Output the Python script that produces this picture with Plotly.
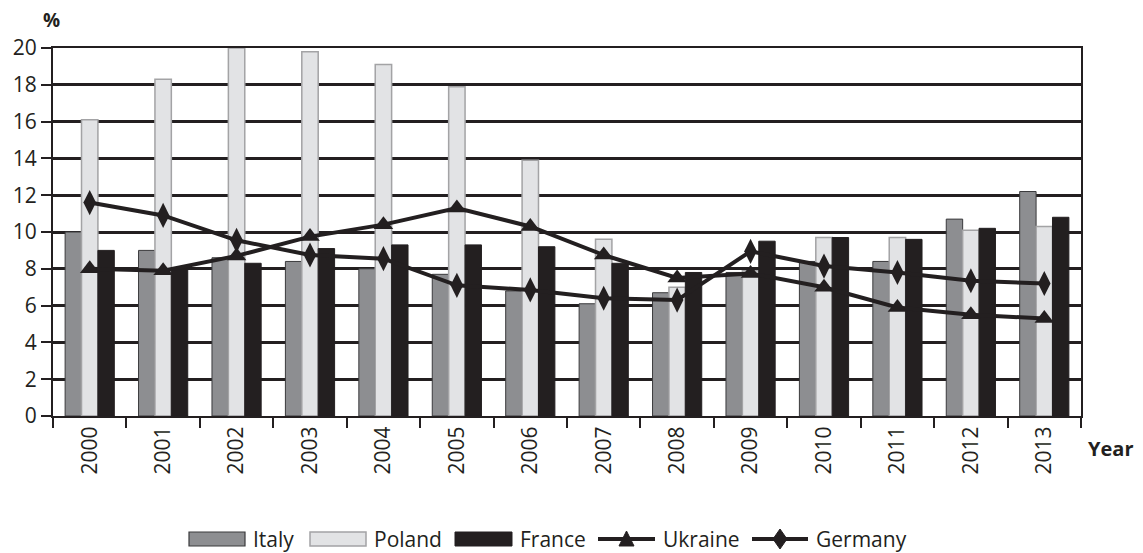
import plotly.graph_objects as go

# Unemployment rate by country, 2000-2013 (%)
years = [str(y) for y in range(2000, 2014)]
italy = [10.0, 9.0, 8.6, 8.4, 8.0, 7.7, 6.8, 6.1, 6.7, 7.8, 8.4, 8.4, 10.7, 12.2]
poland = [16.1, 18.3, 20.0, 19.8, 19.1, 17.9, 13.9, 9.6, 7.0, 7.9, 9.7, 9.7, 10.1, 10.3]
france = [9.0, 8.0, 8.3, 9.1, 9.3, 9.3, 9.2, 8.3, 7.8, 9.5, 9.7, 9.6, 10.2, 10.8]
ukraine = [8.0, 7.9, 8.7, 9.75, 10.4, 11.3, 10.3, 8.75, 7.5, 7.75, 7.0, 5.9, 5.5, 5.3]
germany = [11.6, 10.9, 9.55, 8.75, 8.55, 7.1, 6.85, 6.4, 6.3, 8.95, 8.15, 7.8, 7.35, 7.2]
y_ticks = list(range(0, 21, 2))

W, H = 1143, 553
L, R, T, B = 53, 1081, 48, 416  # plot area in pixels

DARK = "#231f20"
ITALY_FILL, ITALY_LINE = "#8d8e91", "#3a3a3c"
POLAND_FILL, POLAND_LINE = "#e2e3e5", "#a3a3a5"
FONT = "Open Sans"

fig = go.Figure()
fig.add_bar(x=years, y=italy, name="Italy", marker=dict(color=ITALY_FILL, line=dict(color=ITALY_LINE, width=1)))
fig.add_bar(x=years, y=poland, name="Poland", marker=dict(color=POLAND_FILL, line=dict(color=POLAND_LINE, width=1.5)))
fig.add_bar(x=years, y=france, name="France", marker=dict(color=DARK, line=dict(color=DARK, width=1)))
fig.add_scatter(x=years, y=ukraine, name="Ukraine", mode="lines+markers",
                line=dict(color=DARK, width=4),
                marker=dict(symbol="triangle-up", size=17, color=DARK))
fig.add_scatter(x=years, y=germany, name="Germany", mode="lines+markers",
                line=dict(color=DARK, width=4),
                marker=dict(symbol="diamond-tall", size=18, color=DARK))


def px(x):
    return (x - L) / (R - L)


def py(y):
    return (B - y) / (B - T)


# Hand-drawn legend row along the bottom
shapes = []
annotations = []
legend_y = 539
box_items = [("Italy", 189, 245, ITALY_FILL, ITALY_LINE, 1.2, 251),
             ("Poland", 310, 366, POLAND_FILL, POLAND_LINE, 1.5, 372),
             ("France", 455, 512, DARK, DARK, 1, 518)]
for name, x0, x1, fill, lc, lw, tx in box_items:
    shapes.append(dict(type="rect", xref="paper", yref="paper",
                       x0=px(x0), x1=px(x1), y0=py(legend_y + 7), y1=py(legend_y - 7),
                       fillcolor=fill, line=dict(color=lc, width=lw)))
    annotations.append(dict(text=name, xref="paper", yref="paper", x=px(tx), y=py(legend_y),
                            xanchor="left", yanchor="middle", showarrow=False,
                            font=dict(family=FONT, size=21, color=DARK)))

# Ukraine: line with triangle
shapes.append(dict(type="line", xref="paper", yref="paper", x0=px(598), x1=px(655),
                   y0=py(legend_y), y1=py(legend_y), line=dict(color=DARK, width=4)))
tri = "M {:.5f} {:.5f} L {:.5f} {:.5f} L {:.5f} {:.5f} Z".format(
    px(626.5 - 7.5), py(legend_y + 7), px(626.5 + 7.5), py(legend_y + 7), px(626.5), py(legend_y - 8))
shapes.append(dict(type="path", xref="paper", yref="paper", path=tri,
                   fillcolor=DARK, line=dict(color=DARK, width=1)))
annotations.append(dict(text="Ukraine", xref="paper", yref="paper", x=px(661), y=py(legend_y),
                        xanchor="left", yanchor="middle", showarrow=False,
                        font=dict(family=FONT, size=21, color=DARK)))

# Germany: line with diamond
shapes.append(dict(type="line", xref="paper", yref="paper", x0=px(752), x1=px(808),
                   y0=py(legend_y), y1=py(legend_y), line=dict(color=DARK, width=4)))
dia = "M {:.5f} {:.5f} L {:.5f} {:.5f} L {:.5f} {:.5f} L {:.5f} {:.5f} Z".format(
    px(780), py(legend_y - 10), px(787), py(legend_y), px(780), py(legend_y + 10), px(773), py(legend_y))
shapes.append(dict(type="path", xref="paper", yref="paper", path=dia,
                   fillcolor=DARK, line=dict(color=DARK, width=1)))
annotations.append(dict(text="Germany", xref="paper", yref="paper", x=px(814), y=py(legend_y),
                        xanchor="left", yanchor="middle", showarrow=False,
                        font=dict(family=FONT, size=21, color=DARK)))

# Axis titles
annotations.append(dict(text="<b>%</b>", xref="paper", yref="paper", x=px(51), y=py(20),
                        xanchor="center", yanchor="middle", showarrow=False,
                        font=dict(family=FONT, size=19, color=DARK)))
annotations.append(dict(text="<b>Year</b>", xref="paper", yref="paper", x=px(1110), y=py(448),
                        xanchor="center", yanchor="middle", showarrow=False,
                        font=dict(family=FONT, size=20, color=DARK)))

fig.update_layout(
    width=W, height=H,
    margin=dict(l=L, r=W - R, t=T, b=H - B, pad=0),
    paper_bgcolor="white", plot_bgcolor="white",
    barmode="group", bargap=0.33, bargroupgap=0,
    showlegend=False,
    shapes=shapes, annotations=annotations,
    font=dict(family=FONT, color=DARK),
)
fig.update_xaxes(
    type="category", range=[-0.5, len(years) - 0.5],
    tickson="boundaries", ticks="outside", ticklen=10, tickwidth=2,
    tickcolor=DARK, tickangle=-90, tickfont=dict(family=FONT, size=21, color=DARK),
    showline=True, linecolor=DARK, linewidth=2, mirror=True, showgrid=False,
)
fig.update_yaxes(
    range=[0, 20], tickvals=y_ticks, ticks="outside", ticklen=10, tickwidth=2,
    tickcolor=DARK, tickfont=dict(family=FONT, size=21, color=DARK),
    showline=True, linecolor=DARK, linewidth=2, mirror=True,
    showgrid=True, gridcolor=DARK, gridwidth=2.5, zeroline=False,
)

fig.write_html("out.html")
